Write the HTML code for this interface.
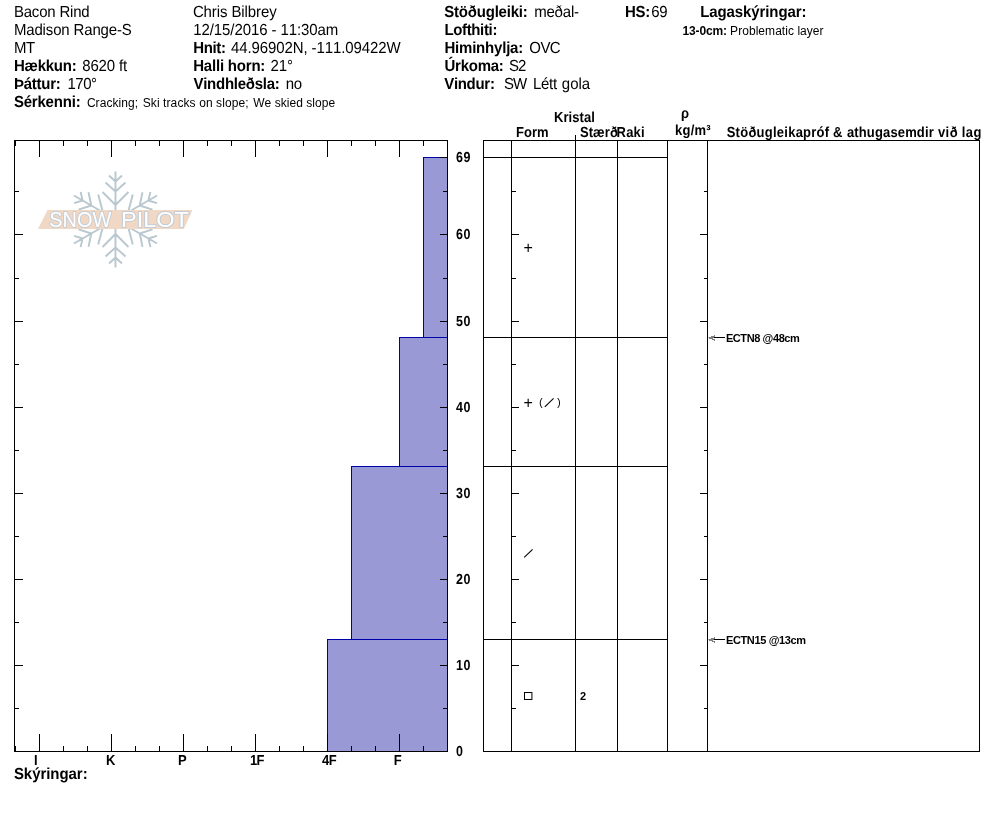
<!DOCTYPE html>
<html lang="is"><head><meta charset="utf-8"><title>Snow Pilot</title>
<style>
html,body{margin:0;padding:0;background:#fff;}
body{width:994px;height:840px;position:relative;overflow:hidden;font-family:"Liberation Sans",sans-serif;color:#000;}
.t{position:absolute;white-space:pre;line-height:1;font-kerning:none;font-variant-ligatures:none;}
.n15{font-size:15px;text-rendering:geometricPrecision;transform:scaleY(1.066);transform-origin:0 12px;}
.b15{font-size:15px;font-weight:bold;text-rendering:geometricPrecision;transform:scaleY(1.066);transform-origin:0 12px;}
.n12{font-size:12px;}
.b12{font-size:12px;font-weight:bold;}
.b13{font-size:13px;font-weight:bold;text-rendering:geometricPrecision;transform:scaleY(1.118);transform-origin:0 11px;}
.b13d{font-size:13px;font-weight:bold;text-rendering:geometricPrecision;transform:scale(0.96,1.118);transform-origin:0 11px;}
.b11{font-size:11px;font-weight:bold;}
svg{position:absolute;left:0;top:0;}
</style></head><body>

<svg width="994" height="840" viewBox="0 0 994 840">
<g id="logo">
<path d="M115.5 219.5L115.5 171.5M115.5 181.5L109.0 175.5M115.5 181.5L122.0 175.5M115.5 191.5L105.5 182.5M115.5 191.5L125.5 182.5M115.5 205.0L102.5 192.0M115.5 205.0L128.5 192.0M115.5 219.5L157.1 195.5M148.4 200.5L150.4 191.9M148.4 200.5L156.9 203.1M139.7 205.5L142.5 192.3M139.7 205.5L152.5 209.7M128.1 212.2L132.8 194.5M128.1 212.2L145.8 217.0M115.5 219.5L157.1 243.5M148.4 238.5L156.9 235.9M148.4 238.5L150.4 247.1M139.7 233.5L152.5 229.3M139.7 233.5L142.5 246.7M128.1 226.8L145.8 222.0M128.1 226.8L132.8 244.5M115.5 219.5L115.5 267.5M115.5 257.5L122.0 263.5M115.5 257.5L109.0 263.5M115.5 247.5L125.5 256.5M115.5 247.5L105.5 256.5M115.5 234.0L128.5 247.0M115.5 234.0L102.5 247.0M115.5 219.5L73.9 243.5M82.6 238.5L80.6 247.1M82.6 238.5L74.1 235.9M91.3 233.5L88.5 246.7M91.3 233.5L78.5 229.3M102.9 226.8L98.2 244.5M102.9 226.8L85.2 222.0M115.5 219.5L73.9 195.5M82.6 200.5L74.1 203.1M82.6 200.5L80.6 191.9M91.3 205.5L78.5 209.7M91.3 205.5L88.5 192.3M102.9 212.2L85.2 217.0M102.9 212.2L98.2 194.5" stroke="#b9c7cf" stroke-width="1.9" fill="none" stroke-linecap="butt"/>
<polygon points="47.5,210 192.5,210 183.8,229 38,229" fill="#f1d8c5"/>
<text y="227.4" font-family="Liberation Sans, sans-serif" font-size="22.6" fill="#ffffff" stroke="#c3ccd5" stroke-width="2" paint-order="stroke" stroke-linejoin="round"><tspan x="49.3" textLength="62" lengthAdjust="spacingAndGlyphs">SNOW</tspan> <tspan x="121" textLength="68" lengthAdjust="spacingAndGlyphs">PILOT</tspan></text>
</g>
<g shape-rendering="crispEdges">
<rect x="327.5" y="639.5" width="120" height="112" fill="#9999d6" stroke="#0000a8" stroke-width="1"/>
<rect x="351.5" y="466.5" width="96" height="173" fill="#9999d6" stroke="#0000a8" stroke-width="1"/>
<rect x="399.5" y="337.5" width="48" height="129" fill="#9999d6" stroke="#0000a8" stroke-width="1"/>
<rect x="423.5" y="157.5" width="24" height="180" fill="#9999d6" stroke="#0000a8" stroke-width="1"/>
<g stroke="#000" stroke-width="1" fill="none">
<rect x="14.5" y="140.5" width="433" height="611"/>
<line x1="15.5" y1="141" x2="15.5" y2="146"/>
<line x1="15.5" y1="746" x2="15.5" y2="751"/>
<line x1="39.5" y1="141" x2="39.5" y2="157"/>
<line x1="39.5" y1="734" x2="39.5" y2="751"/>
<line x1="63.5" y1="141" x2="63.5" y2="146"/>
<line x1="63.5" y1="746" x2="63.5" y2="751"/>
<line x1="87.5" y1="141" x2="87.5" y2="146"/>
<line x1="87.5" y1="746" x2="87.5" y2="751"/>
<line x1="111.5" y1="141" x2="111.5" y2="157"/>
<line x1="111.5" y1="734" x2="111.5" y2="751"/>
<line x1="135.5" y1="141" x2="135.5" y2="146"/>
<line x1="135.5" y1="746" x2="135.5" y2="751"/>
<line x1="159.5" y1="141" x2="159.5" y2="146"/>
<line x1="159.5" y1="746" x2="159.5" y2="751"/>
<line x1="183.5" y1="141" x2="183.5" y2="157"/>
<line x1="183.5" y1="734" x2="183.5" y2="751"/>
<line x1="207.5" y1="141" x2="207.5" y2="146"/>
<line x1="207.5" y1="746" x2="207.5" y2="751"/>
<line x1="231.5" y1="141" x2="231.5" y2="146"/>
<line x1="231.5" y1="746" x2="231.5" y2="751"/>
<line x1="255.5" y1="141" x2="255.5" y2="157"/>
<line x1="255.5" y1="734" x2="255.5" y2="751"/>
<line x1="279.5" y1="141" x2="279.5" y2="146"/>
<line x1="279.5" y1="746" x2="279.5" y2="751"/>
<line x1="303.5" y1="141" x2="303.5" y2="146"/>
<line x1="303.5" y1="746" x2="303.5" y2="751"/>
<line x1="327.5" y1="141" x2="327.5" y2="157"/>
<line x1="327.5" y1="734" x2="327.5" y2="751"/>
<line x1="351.5" y1="141" x2="351.5" y2="146"/>
<line x1="351.5" y1="746" x2="351.5" y2="751"/>
<line x1="375.5" y1="141" x2="375.5" y2="146"/>
<line x1="375.5" y1="746" x2="375.5" y2="751"/>
<line x1="399.5" y1="141" x2="399.5" y2="157"/>
<line x1="399.5" y1="734" x2="399.5" y2="751"/>
<line x1="423.5" y1="141" x2="423.5" y2="146"/>
<line x1="423.5" y1="746" x2="423.5" y2="751"/>
<line x1="447.5" y1="141" x2="447.5" y2="146"/>
<line x1="447.5" y1="746" x2="447.5" y2="751"/>
<line x1="15" y1="708.5" x2="19" y2="708.5"/>
<line x1="443" y1="708.5" x2="447" y2="708.5"/>
<line x1="15" y1="665.5" x2="23" y2="665.5"/>
<line x1="440" y1="665.5" x2="447" y2="665.5"/>
<line x1="15" y1="622.5" x2="19" y2="622.5"/>
<line x1="443" y1="622.5" x2="447" y2="622.5"/>
<line x1="15" y1="579.5" x2="23" y2="579.5"/>
<line x1="440" y1="579.5" x2="447" y2="579.5"/>
<line x1="15" y1="536.5" x2="19" y2="536.5"/>
<line x1="443" y1="536.5" x2="447" y2="536.5"/>
<line x1="15" y1="493.5" x2="23" y2="493.5"/>
<line x1="440" y1="493.5" x2="447" y2="493.5"/>
<line x1="15" y1="450.5" x2="19" y2="450.5"/>
<line x1="443" y1="450.5" x2="447" y2="450.5"/>
<line x1="15" y1="407.5" x2="23" y2="407.5"/>
<line x1="440" y1="407.5" x2="447" y2="407.5"/>
<line x1="15" y1="364.5" x2="19" y2="364.5"/>
<line x1="443" y1="364.5" x2="447" y2="364.5"/>
<line x1="15" y1="321.5" x2="23" y2="321.5"/>
<line x1="440" y1="321.5" x2="447" y2="321.5"/>
<line x1="15" y1="278.5" x2="19" y2="278.5"/>
<line x1="443" y1="278.5" x2="447" y2="278.5"/>
<line x1="15" y1="234.5" x2="23" y2="234.5"/>
<line x1="440" y1="234.5" x2="447" y2="234.5"/>
<line x1="15" y1="191.5" x2="19" y2="191.5"/>
<line x1="443" y1="191.5" x2="447" y2="191.5"/>
<line x1="440" y1="157.5" x2="447" y2="157.5"/>
<rect x="483.5" y="140.5" width="496" height="611"/>
<line x1="511.5" y1="141" x2="511.5" y2="751"/>
<line x1="575.5" y1="141" x2="575.5" y2="751"/>
<line x1="617.5" y1="141" x2="617.5" y2="751"/>
<line x1="667.5" y1="141" x2="667.5" y2="751"/>
<line x1="707.5" y1="141" x2="707.5" y2="751"/>
<line x1="484" y1="639.5" x2="667" y2="639.5"/>
<line x1="484" y1="466.5" x2="667" y2="466.5"/>
<line x1="484" y1="337.5" x2="667" y2="337.5"/>
<line x1="484" y1="157.5" x2="667" y2="157.5"/>
<line x1="512" y1="708.5" x2="516" y2="708.5"/>
<line x1="704" y1="708.5" x2="707" y2="708.5"/>
<line x1="512" y1="665.5" x2="519" y2="665.5"/>
<line x1="700" y1="665.5" x2="707" y2="665.5"/>
<line x1="512" y1="622.5" x2="516" y2="622.5"/>
<line x1="704" y1="622.5" x2="707" y2="622.5"/>
<line x1="512" y1="579.5" x2="519" y2="579.5"/>
<line x1="700" y1="579.5" x2="707" y2="579.5"/>
<line x1="512" y1="536.5" x2="516" y2="536.5"/>
<line x1="704" y1="536.5" x2="707" y2="536.5"/>
<line x1="512" y1="493.5" x2="519" y2="493.5"/>
<line x1="700" y1="493.5" x2="707" y2="493.5"/>
<line x1="512" y1="450.5" x2="516" y2="450.5"/>
<line x1="704" y1="450.5" x2="707" y2="450.5"/>
<line x1="512" y1="407.5" x2="519" y2="407.5"/>
<line x1="700" y1="407.5" x2="707" y2="407.5"/>
<line x1="512" y1="364.5" x2="516" y2="364.5"/>
<line x1="704" y1="364.5" x2="707" y2="364.5"/>
<line x1="512" y1="321.5" x2="519" y2="321.5"/>
<line x1="700" y1="321.5" x2="707" y2="321.5"/>
<line x1="512" y1="278.5" x2="516" y2="278.5"/>
<line x1="704" y1="278.5" x2="707" y2="278.5"/>
<line x1="512" y1="234.5" x2="519" y2="234.5"/>
<line x1="700" y1="234.5" x2="707" y2="234.5"/>
<line x1="512" y1="191.5" x2="516" y2="191.5"/>
<line x1="704" y1="191.5" x2="707" y2="191.5"/>
<line x1="575.5" y1="135" x2="575.5" y2="141"/>
<line x1="714" y1="337.5" x2="725" y2="337.5"/>
<line x1="714" y1="639.5" x2="725" y2="639.5"/>
</g>
</g>
<path d="M714 335h1v1h-1zM711 336h4v1h-4zM709 337h5v1h-5zM709 338h4v1h-4zM712 339h3v1h-3zM714 340h1v1h-1z" fill="#808080" shape-rendering="crispEdges"/>
<rect x="708" y="337" width="1" height="1" fill="#c0c0c0" shape-rendering="crispEdges"/>
<path d="M714 637h1v1h-1zM711 638h4v1h-4zM709 639h5v1h-5zM709 640h4v1h-4zM712 641h3v1h-3zM714 642h1v1h-1z" fill="#808080" shape-rendering="crispEdges"/>
<rect x="708" y="639" width="1" height="1" fill="#c0c0c0" shape-rendering="crispEdges"/>
<g stroke="#000" stroke-width="1.1" fill="none">
<line x1="524.2" y1="557.3" x2="532.6" y2="549.3"/>
<line x1="544.8" y1="406.8" x2="553.6" y2="398.4"/>
<rect x="524.5" y="692.5" width="7.4" height="7" stroke-width="1"/>
</g>
</svg>
<div class="t n15" style="left:13.9px;top:5px;letter-spacing:-0.20px;">Bacon Rind</div>
<div class="t n15" style="left:13.9px;top:23px;letter-spacing:-0.15px;">Madison Range-S</div>
<div class="t n15" style="left:13.9px;top:41px;letter-spacing:-0.40px;">MT</div>
<div class="t b15" style="left:14px;top:59px;letter-spacing:-0.25px;">Hækkun:</div>
<div class="t n15" style="left:82.2px;top:59px;letter-spacing:-0.15px;">8620 ft</div>
<div class="t b15" style="left:14px;top:77px;letter-spacing:-0.25px;">Þáttur:</div>
<div class="t n15" style="left:67.4px;top:77px;letter-spacing:-0.45px;">170°</div>
<div class="t b15" style="left:13.9px;top:95px;letter-spacing:-0.20px;">Sérkenni:</div>
<div class="t n12" style="left:86.9px;top:97px;letter-spacing:0.05px;">Cracking;</div>
<div class="t n12" style="left:142.7px;top:97px;letter-spacing:0.10px;">Ski tracks on slope;</div>
<div class="t n12" style="left:253.2px;top:97px;letter-spacing:0.05px;">We skied slope</div>
<div class="t n15" style="left:192.9px;top:5px;letter-spacing:-0.10px;">Chris Bilbrey</div>
<div class="t n15" style="left:193.3px;top:23px;letter-spacing:-0.10px;">12/15/2016 - 11:30am</div>
<div class="t b15" style="left:193.2px;top:41px;letter-spacing:-0.35px;">Hnit:</div>
<div class="t n15" style="left:230.9px;top:41px;letter-spacing:-0.10px;">44.96902N, -111.09422W</div>
<div class="t b15" style="left:193.2px;top:59px;letter-spacing:-0.20px;">Halli horn:</div>
<div class="t n15" style="left:270.6px;top:59px;letter-spacing:-0.15px;">21°</div>
<div class="t b15" style="left:193.4px;top:77px;letter-spacing:-0.25px;">Vindhleðsla:</div>
<div class="t n15" style="left:285.8px;top:77px;letter-spacing:-0.45px;">no</div>
<div class="t b15" style="left:444.2px;top:5px;letter-spacing:-0.20px;">Stöðugleiki:</div>
<div class="t n15" style="left:534.2px;top:5px;letter-spacing:-0.20px;">meðal-</div>
<div class="t b15" style="left:624.9px;top:5px;letter-spacing:-0.25px;">HS:</div>
<div class="t n15" style="left:651.2px;top:5px;letter-spacing:-0.30px;">69</div>
<div class="t b15" style="left:700.2px;top:5px;letter-spacing:-0.10px;">Lagaskýringar:</div>
<div class="t b15" style="left:444.4px;top:23px;letter-spacing:-0.35px;">Lofthiti:</div>
<div class="t b12" style="left:682.5px;top:25px;letter-spacing:-0.15px;">13-0cm:</div>
<div class="t n12" style="left:730.1px;top:25px;letter-spacing:0.05px;">Problematic layer</div>
<div class="t b15" style="left:444.4px;top:41px;letter-spacing:-0.20px;">Himinhylja:</div>
<div class="t n15" style="left:529.3px;top:41px;letter-spacing:-0.55px;">OVC</div>
<div class="t b15" style="left:444.5px;top:59px;letter-spacing:-0.25px;">Úrkoma:</div>
<div class="t n15" style="left:508.9px;top:59px;letter-spacing:-0.85px;">S2</div>
<div class="t b15" style="left:444.2px;top:77px;letter-spacing:-0.30px;">Vindur:</div>
<div class="t n15" style="left:504px;top:77px;letter-spacing:-0.90px;">SW</div>
<div class="t n15" style="left:532.9px;top:77px;letter-spacing:-0.25px;">Létt</div>
<div class="t n15" style="left:561.8px;top:77px;">gola</div>
<div class="t b15" style="left:13.9px;top:767px;letter-spacing:-0.05px;">Skýringar:</div>
<div class="t b13" style="left:553.9px;top:111px;letter-spacing:0.10px;">Kristal</div>
<div class="t b13" style="left:516.1px;top:126px;">Form</div>
<div class="t b13" style="left:579.9px;top:126px;letter-spacing:0.10px;">Stærð</div>
<div class="t b13" style="left:616.6px;top:126px;letter-spacing:0.15px;">Raki</div>
<div class="t b13" style="left:680.9px;top:107px;">ρ</div>
<div class="t b13" style="left:675px;top:124px;letter-spacing:0.25px;">kg/m³</div>
<div class="t b13" style="left:726.7px;top:126px;letter-spacing:0.25px;">Stöðugleikapróf</div>
<div class="t b13" style="left:832.9px;top:126px;">&amp;</div>
<div class="t b13" style="left:846.9px;top:126px;letter-spacing:0.15px;">athugasemdir</div>
<div class="t b13" style="left:937.9px;top:126px;letter-spacing:0.50px;">við</div>
<div class="t b13" style="left:961.7px;top:126px;letter-spacing:0.45px;">lag</div>
<div class="t b13d" style="left:456.1px;top:745px;">0</div>
<div class="t b13d" style="left:456px;top:659px;letter-spacing:0.70px;">10</div>
<div class="t b13d" style="left:456px;top:573px;letter-spacing:0.70px;">20</div>
<div class="t b13d" style="left:456px;top:487px;letter-spacing:0.70px;">30</div>
<div class="t b13d" style="left:456px;top:401px;letter-spacing:0.70px;">40</div>
<div class="t b13d" style="left:456px;top:315px;letter-spacing:0.70px;">50</div>
<div class="t b13d" style="left:456px;top:228px;letter-spacing:0.70px;">60</div>
<div class="t b13d" style="left:456px;top:151px;letter-spacing:0.70px;">69</div>
<div class="t b13" style="left:34px;top:754px;">I</div>
<div class="t b13" style="left:106.1px;top:754px;">K</div>
<div class="t b13" style="left:177.9px;top:754px;">P</div>
<div class="t b13" style="left:250px;top:754px;letter-spacing:-0.65px;">1F</div>
<div class="t b13" style="left:321.9px;top:754px;letter-spacing:-0.35px;">4F</div>
<div class="t b13" style="left:393.8px;top:754px;">F</div>
<div class="t b11" style="left:725.9px;top:333px;letter-spacing:-0.40px;">ECTN8 @48cm</div>
<div class="t b11" style="left:725.9px;top:635px;letter-spacing:-0.35px;">ECTN15 @13cm</div>
<div class="t b11" style="left:580.1px;top:691px;">2</div>
<div class="t" style="left:523.6px;top:240px;font-size:16px;font-family:'Liberation Sans',sans-serif;">+</div>
<div class="t" style="left:523.6px;top:395px;font-size:16px;">+</div>
<div class="t" style="left:538px;top:398px;font-size:10.5px;font-family:'Liberation Mono',monospace;">(</div>
<div class="t" style="left:555.6px;top:398px;font-size:10.5px;font-family:'Liberation Mono',monospace;">)</div>
</body></html>
